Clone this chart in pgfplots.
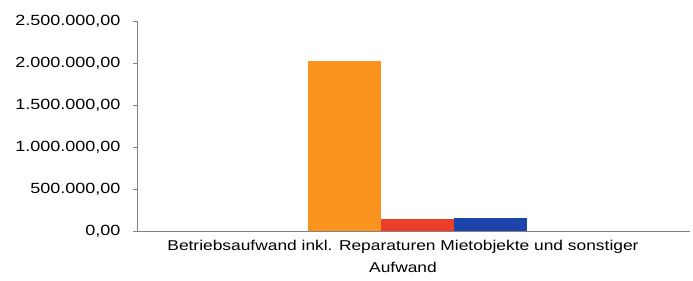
\documentclass[border=0pt]{standalone}
\usepackage{pgfplots}
\pgfplotsset{compat=1.18}
\usepackage{fontspec}
\setmainfont[FakeStretch=1.22]{Liberation Sans}
\definecolor{cOrange}{RGB}{250,148,30}
\definecolor{cRed}{RGB}{236,62,40}
\definecolor{cBlue}{RGB}{28,68,170}
\definecolor{cAxis}{RGB}{130,130,130}
\begin{document}
\begin{tikzpicture}
\path[use as bounding box] (-137bp,-50bp) rectangle (556bp,231bp);
\begin{axis}[
  scale only axis,
  width=553bp, height=210bp,
  xmin=0, xmax=1, ymin=0, ymax=2500000,
  scaled y ticks=false,
  axis x line*=bottom, axis y line*=left,
  axis line style={cAxis, line width=0.8pt},
  every outer x axis line/.append style={-},
  every outer y axis line/.append style={-},
  ytick={0,500000,1000000,1500000,2000000,2500000},
  yticklabels={{0,00},{500.000,00},{1.000.000,00},{1.500.000,00},{2.000.000,00},{2.500.000,00}},
  y tick label style={font=\fontsize{14.8}{16}\selectfont, xshift=-9bp},
  ytick style={cAxis, line width=0.6pt},
  major tick length=4bp,
  tick align=outside,
  xtick={0.481},
  xticklabels={Betriebsaufwand inkl. Reparaturen Mietobjekte und sonstiger\\Aufwand},
  x tick label style={font=\fontsize{14.3}{22}\selectfont, align=center, yshift=-2bp},
  x tick style={draw=none},
  ybar, bar width=0.132, bar shift=0pt,
  clip=false,
]
\addplot[fill=cOrange, draw=none] coordinates {(0.376,2025000)};
\addplot[fill=cRed, draw=none] coordinates {(0.508,140000)};
\addplot[fill=cBlue, draw=none] coordinates {(0.640,160000)};
\end{axis}
\end{tikzpicture}
\end{document}
